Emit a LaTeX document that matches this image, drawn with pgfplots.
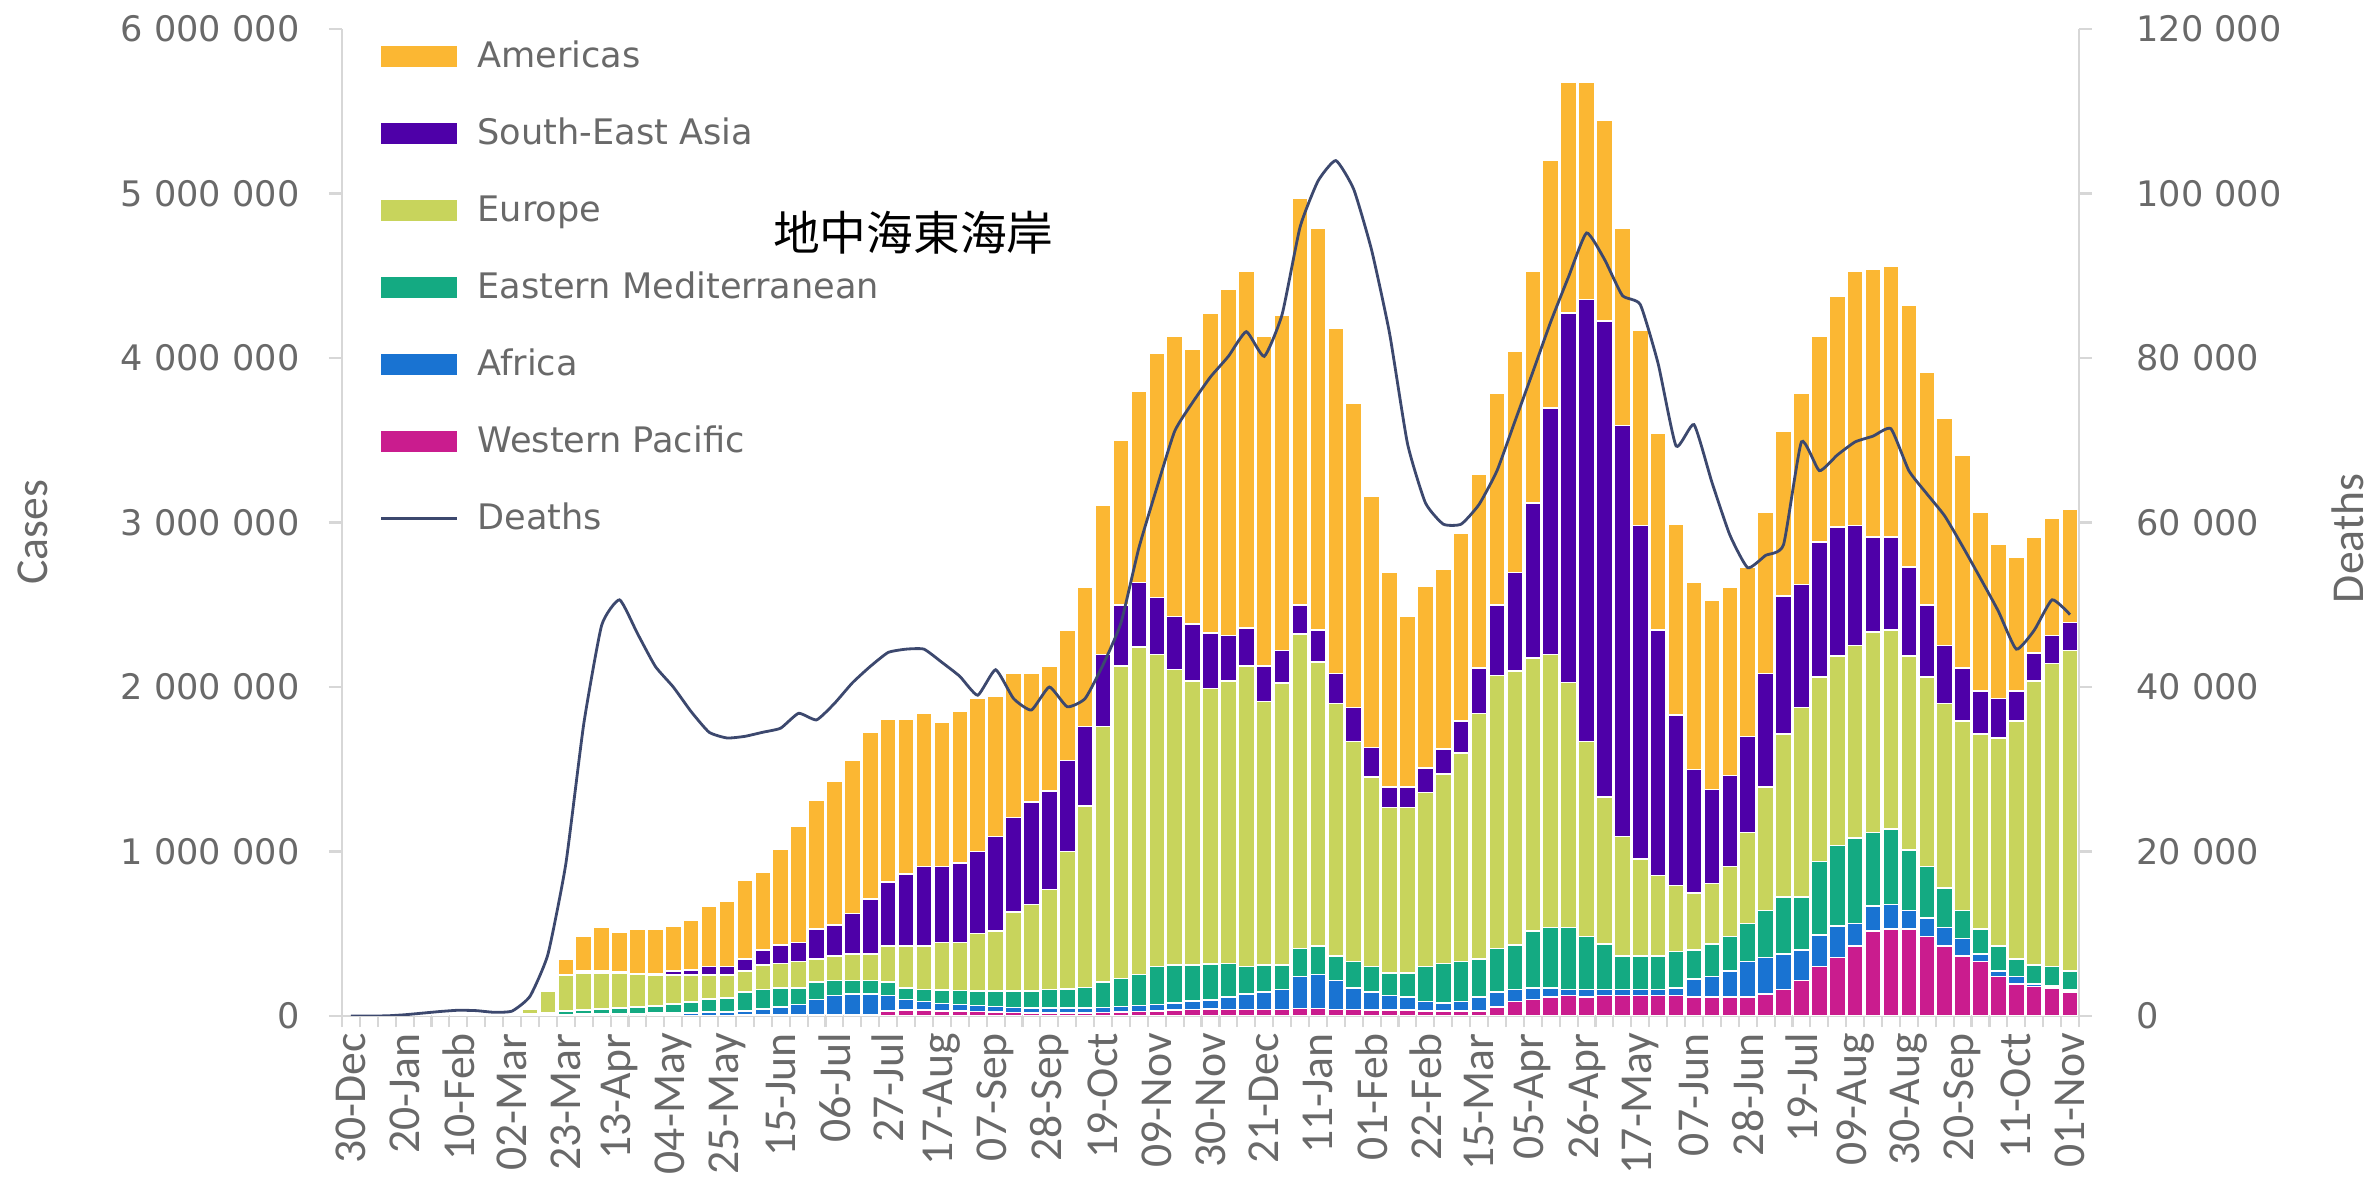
\documentclass[border=0pt]{standalone}
\usepackage{fontspec}
\usepackage{pgfplots}
\pgfplotsset{compat=1.18}
\usepackage{pgfplotstable}
\newfontfamily\dejavu{DejaVu Sans}
\newfontfamily\carlito{Carlito}
\newfontfamily\cjk{Noto Sans CJK TC}
\definecolor{amer}{RGB}{251,183,51}
\definecolor{sea}{RGB}{78,0,168}
\definecolor{eur}{RGB}{200,212,92}
\definecolor{emr}{RGB}{20,170,130}
\definecolor{afr}{RGB}{25,115,210}
\definecolor{wp}{RGB}{202,28,142}
\definecolor{deathc}{RGB}{60,72,110}
\definecolor{txt}{RGB}{105,105,105}
\definecolor{axl}{RGB}{215,215,215}

\pgfplotsset{
  barleg/.style={legend image code/.code={\fill[##1, draw=none] (0cm,-0.105cm) rectangle (0.76cm,0.105cm);}},
  lineleg/.style={legend image code/.code={\draw[##1] (0cm,0cm) -- (0.76cm,0cm);}},
  stk/.style={draw=white, line width=0.45pt},
}

% weekly cases in thousands by region, deaths per week
\pgfplotstableread{
wk wp af emr eur sea am d
0 0 0 0 0 0 0 0
1 0.3 0 0 0 0 0 0
2 1 0 0 0 0 0 20
3 2.5 0 0 0 0 0 150
4 6 0 0 0 0 0 350
5 9 0 0 0 0 0 550
6 8 0 0 0.5 0 0 700
7 4 0 0 1 0 0 650
8 2 0 2 3 0 0.5 450
9 3 0 5 12 0 2 600
10 5 0.5 8 30 0.5 6 2400
11 5 1 12 130 1 10 7500
12 6 3 20 220 3 94 18500
13 6 5 25 227 10 211 35500
14 6 6 30 221 10 266 47500
15 6 8 35 214 8 236 50600
16 6 10 40 197 5 272 46500
17 5 12 45 188 8 272 42500
18 5 13 55 176 23 276 40000
19 4 16 65 164 32 304 37000
20 4 19 80 146 51 368 34500
21 4 20 87 138 51 400 33800
22 5 25 117 125 74 479 34000
23 5 36 120 148 92 475 34500
24 6 49 116 147 115 581 35000
25 6 63 102 161 115 705 36800
26 6 95 106 139 184 779 36000
27 7 117 93 147 189 876 38000
28 8 126 83 161 244 931 40500
29 9 125 83 161 332 1014 42500
30 32 92 83 217 392 990 44200
31 35 66 70 253 438 944 44600
32 35 53 73 263 484 935 44600
33 32 45 80 290 461 875 43000
34 30 40 85 292 484 922 41300
35 28 35 90 349 498 931 39000
36 25 32 95 364 576 853 42100
37 22 30 100 479 576 876 38600
38 20 28 105 524 623 783 37200
39 20 30 110 610 599 760 40000
40 20 28 115 837 553 793 37600
41 20 28 125 1103 484 844 38600
42 22 30 155 1553 438 908 42700
43 25 32 170 1902 369 1000 47800
44 28 35 190 1991 392 1161 56900
45 30 40 230 1898 346 1488 64200
46 35 45 230 1796 323 1705 71100
47 40 50 220 1727 345 1673 74600
48 42 55 220 1674 336 1945 77700
49 40 75 203 1719 276 2106 80200
50 40 94 166 1829 230 2166 83200
51 40 107 162 1603 217 2005 80200
52 40 121 148 1714 198 2042 85300
53 45 195 170 1913 175 2474 95900
54 45 208 171 1728 194 2442 101500
55 40 177 147 1535 184 2097 104000
56 40 131 161 1336 208 1852 100500
57 35 112 153 1152 179 1526 93100
58 35 89 139 1004 125 1304 83000
59 35 80 148 1004 125 1037 69600
60 32 56 212 1059 148 1106 62400
61 32 46 240 1152 152 1092 59800
62 32 56 244 1267 194 1142 59800
63 32 83 231 1493 276 1180 62200
64 55 92 263 1659 429 1290 66300
65 88 73 272 1664 599 1345 72300
66 101 70 345 1659 945 1405 78300
67 115 56 368 1659 1498 1507 84400
68 124 37 378 1489 2244 1405 89900
69 115 46 323 1184 2687 1322 95200
70 124 37 277 894 2894 1221 92000
71 124 37 203 728 2498 1198 87600
72 124 37 203 590 2028 1189 86500
73 124 37 203 489 1493 1198 79300
74 124 47 221 401 1036 1162 69300
75 115 111 175 346 751 1138 71900
76 115 125 198 368 572 1152 64900
77 115 157 212 424 553 1143 58500
78 115 217 230 553 585 1028 54500
79 134 221 286 751 691 982 56000
80 161 217 346 990 839 1005 57300
81 217 184 323 1152 746 1166 69800
82 300 193 447 1120 820 1254 66300
83 355 193 489 1152 783 1401 68200
84 424 138 521 1170 729 1543 69800
85 516 152 447 1221 576 1627 70500
86 530 147 461 1208 566 1646 71400
87 530 111 368 1180 539 1590 66300
88 484 110 314 1152 438 1414 63500
89 424 115 240 1120 354 1383 60800
90 364 106 171 1152 322 1295 57100
91 332 46 152 1184 263 1088 53200
92 240 32 152 1267 240 935 49200
93 194 46 106 1447 184 811 44600
94 180 15 114 1728 170 705 46900
95 171 12 117 1843 170 715 50600
96 147 12 113 1949 171 691 48800
}\data

\begin{document}
\begin{tikzpicture}
\begin{axis}[name=ax,
    width=17.37cm, height=9.87cm, scale only axis,
    xmin=-0.5, xmax=96.5, ymin=0, ymax=6000,
    enlargelimits=false,
    ybar stacked, bar width=0.9,
    axis x line*=bottom, axis y line*=left,
    axis line style={-, draw=axl, line width=0.7pt},
    tick align=outside, major tick length=0.13cm, minor tick length=0.11cm,
    xtick={0,3,...,96},
    xticklabels={30-Dec,20-Jan,10-Feb,02-Mar,23-Mar,13-Apr,04-May,25-May,15-Jun,06-Jul,27-Jul,17-Aug,07-Sep,28-Sep,19-Oct,09-Nov,30-Nov,21-Dec,11-Jan,01-Feb,22-Feb,15-Mar,05-Apr,26-Apr,17-May,07-Jun,28-Jun,19-Jul,09-Aug,30-Aug,20-Sep,11-Oct,01-Nov},
    xtick style={draw=none},
    minor xtick={-0.5,0.5,...,96.5},
    minor x tick style={draw=axl, line width=0.6pt},
    xticklabel style={rotate=90, anchor=east, inner sep=1pt, font=\carlito\fontsize{13}{15}\selectfont, text=txt},
    ytick={0,1000,...,6000},
    yticklabels={0,1 000 000,2 000 000,3 000 000,4 000 000,5 000 000,6 000 000},
    ytick style={draw=axl, line width=0.6pt},
    yticklabel style={font=\dejavu\fontsize{10}{12}\selectfont, text=txt, xshift=-0.17cm},
    ylabel={Cases},
    ylabel style={at={(axis description cs:-0.178,0.49)}, anchor=center, font=\carlito\fontsize{13}{15}\selectfont, text=txt},
]
\addplot[stk, fill=wp] table[x=wk,y=wp]{\data};
\addplot[stk, fill=afr] table[x=wk,y=af]{\data};
\addplot[stk, fill=emr] table[x=wk,y=emr]{\data};
\addplot[stk, fill=eur] table[x=wk,y=eur]{\data};
\addplot[stk, fill=sea] table[x=wk,y=sea]{\data};
\addplot[stk, fill=amer] table[x=wk,y=am]{\data};
\end{axis}

\begin{axis}[
    width=17.37cm, height=9.87cm, scale only axis,
    xmin=-0.5, xmax=96.5, ymin=0, ymax=120000,
    enlargelimits=false,
    axis x line=none, axis y line*=right,
    axis line style={-, draw=axl, line width=0.7pt},
    tick align=outside, major tick length=0.13cm,
    ytick={0,20000,...,120000},
    yticklabels={0,20 000,40 000,60 000,80 000,100 000,120 000},
    ytick style={draw=axl, line width=0.6pt},
    yticklabel style={font=\dejavu\fontsize{10}{12}\selectfont, text=txt, xshift=0.32cm},
    ylabel={Deaths},
    ylabel style={at={(axis description cs:1.155,0.484)}, anchor=center, font=\carlito\fontsize{13}{15}\selectfont, text=txt},
    legend style={draw=none, fill=none, inner sep=0pt, at={(0.0213,0.992)}, anchor=north west,
        font=\dejavu\fontsize{10}{12}\selectfont, text=txt, row sep=0.39cm, column sep=0.19cm,
        nodes={inner sep=0pt, text height=0.3cm, text depth=0.08cm}},
    legend cell align=left,
]
\addlegendimage{barleg, fill=amer}
\addlegendentry{Americas}
\addlegendimage{barleg, fill=sea}
\addlegendentry{South-East Asia}
\addlegendimage{barleg, fill=eur}
\addlegendentry{Europe}
\addlegendimage{barleg, fill=emr}
\addlegendentry{Eastern Mediterranean}
\addlegendimage{barleg, fill=afr}
\addlegendentry{Africa}
\addlegendimage{barleg, fill=wp}
\addlegendentry{Western Pacific}
\addplot[lineleg, deathc, line width=0.8pt, smooth, tension=0.3] table[x=wk,y=d]{\data};
\addlegendentry{Deaths}
\node[font=\cjk\fontsize{13.3}{16}\selectfont, text=black] at (rel axis cs:0.329,0.794) {地中海東海岸};
\end{axis}
\pgfresetboundingbox
\path (ax.south west) ++(-3.42cm,-1.73cm) rectangle ++(23.77cm,11.89cm);
\end{tikzpicture}
\end{document}
